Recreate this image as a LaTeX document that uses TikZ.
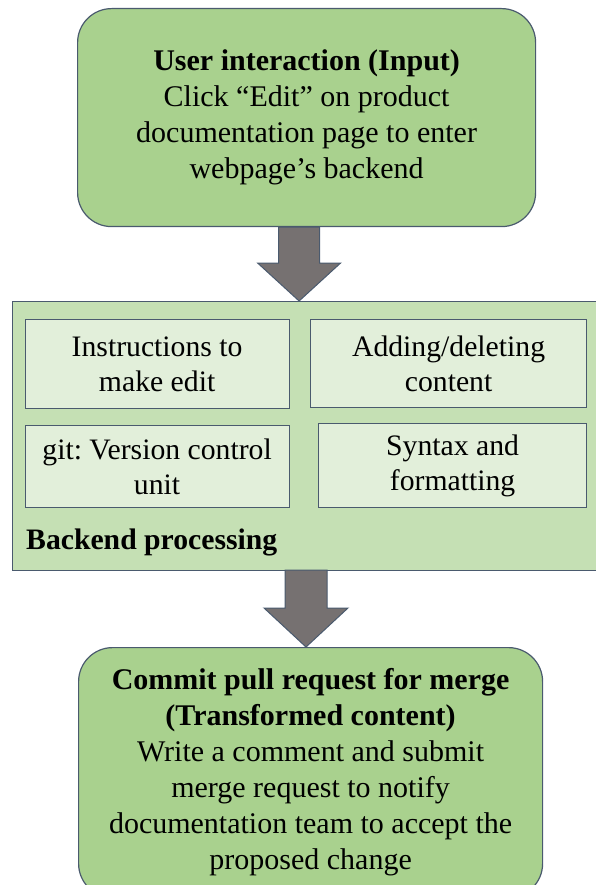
\documentclass[tikz,border=0pt]{standalone}
\usepackage{fontspec}
\setmainfont{Liberation Serif}
\frenchspacing
\usetikzlibrary{calc}
\definecolor{edge}{HTML}{4A5A6E}
\definecolor{stepgreen}{HTML}{A9D18E}
\definecolor{panelgreen}{HTML}{C5E0B4}
\definecolor{cellgreen}{HTML}{E2EFDA}
\definecolor{arrowgrey}{HTML}{767171}
\tikzset{
  stepbox/.style={draw=edge, line width=1.2pt, fill=stepgreen, rounded corners=34pt,
    align=center, inner sep=0pt, font=\fontsize{30}{36}\selectfont},
  cellbox/.style={draw=edge, line width=1.2pt, fill=cellgreen, align=center,
    inner sep=0pt, font=\fontsize{29.7}{35}\selectfont},
  blockarrow/.style={draw=edge, line width=1pt, fill=arrowgrey, line join=miter},
}
\begin{document}
\begin{tikzpicture}[x=1pt, y=-1pt]
\useasboundingbox (0,0) rectangle (595,885);

% backend panel (runs past the right edge)
\node[draw=edge, line width=1.2pt, fill=panelgreen, minimum width=600pt, minimum height=269pt,
      anchor=north west, inner sep=0pt] (back) at (12,301) {};
\node[font=\fontsize{29.7}{35}\selectfont\bfseries, anchor=base west, inner sep=0pt] (backlbl) at (26,549) {Backend processing};

% cells inside the panel
\node[cellbox, minimum width=264pt, minimum height=89pt, anchor=north west] (c1) at (24.5,319)
  {Instructions to\\make edit};
\node[cellbox, minimum width=276pt, minimum height=88pt, anchor=north west] (c2) at (310,319)
  {Adding/deleting\\content};
\node[cellbox, minimum width=264pt, minimum height=82pt, anchor=north west] (c3) at (24.5,425)
  {git: Version control\\unit};
\node[cellbox, minimum width=268pt, minimum height=84pt, anchor=north west] (c4) at (318,423)
  {Syntax and\\formatting};

% input step
\node[stepbox, minimum width=458pt, minimum height=218pt, anchor=north west] (top) at (77,8)
  {\textbf{User interaction (Input)}\\Click “Edit” on product\\documentation page to enter\\webpage’s backend};

% output step
\node[stepbox, minimum width=464pt, minimum height=250pt, anchor=north west] (bot) at (78,647)
  {\textbf{Commit pull request for merge}\\\textbf{(Transformed content)}\\Write a comment and submit\\merge request to notify\\documentation team to accept the\\proposed change};

% block arrows
\coordinate (a1s) at ($(top.south)+(-7.5,0)$);
\coordinate (a1t) at (a1s |- back.north);
\draw[blockarrow] ($(a1s)+(-20.5,0)$) -- ($(a1s)+(20.5,0)$) -- ($(a1t)+(20.5,-38)$) -- ($(a1t)+(41.5,-38)$)
  -- (a1t) -- ($(a1t)+(-41.5,-38)$) -- ($(a1t)+(-20.5,-38)$) -- cycle;

\coordinate (a2s) at (306,570);
\coordinate (a2t) at (a2s |- bot.north);
\draw[blockarrow] ($(a2s)+(-21,0)$) -- ($(a2s)+(21,0)$) -- ($(a2t)+(21,-39)$) -- ($(a2t)+(42,-39)$)
  -- (a2t) -- ($(a2t)+(-42,-39)$) -- ($(a2t)+(-21,-39)$) -- cycle;
\end{tikzpicture}
\end{document}
